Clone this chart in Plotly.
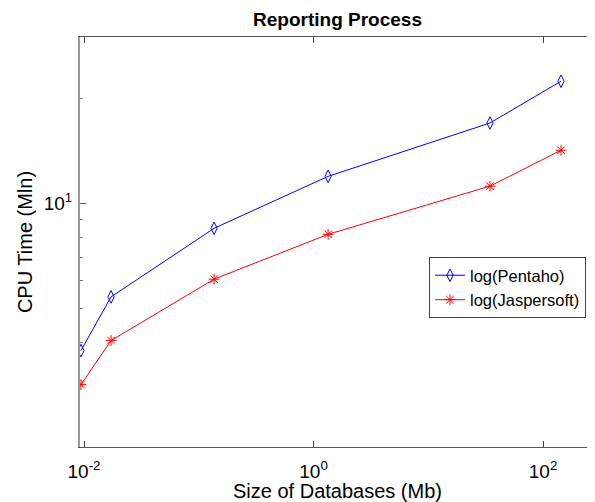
import plotly.graph_objects as go
import math

# Data (log-log axes)
db_size_mb = [0.0094, 0.0172, 0.136, 1.34, 34.5, 143.5]
pentaho_cpu = [3.78, 5.39, 8.48, 11.95, 17.0, 22.4]
jaspersoft_cpu = [3.02, 4.04, 6.06, 8.15, 11.2, 14.2]

x_tickvals = [0.01, 1, 100]
x_ticktext = ["10<sup>-2</sup>", "10<sup>0</sup>", "10<sup>2</sup>"]
y_tickvals = [10]
y_ticktext = ["10<sup>1</sup>"]
y_minor_vals = [3, 4, 5, 6, 7, 8, 9, 20, 30]

FONT = "Arial, Liberation Sans, sans-serif"

# page body has an 8px margin, so the figure is sized/offset to compensate
W, H = 587, 494

fig = go.Figure()
fig.add_trace(go.Scatter(
    x=db_size_mb, y=pentaho_cpu, mode="lines+markers", name="log(Pentaho)",
    line=dict(color="#0000FF", width=1),
    marker=dict(symbol="diamond-tall-open", size=9, color="#0000FF",
                line=dict(width=1, color="#0000FF")),
))
fig.add_trace(go.Scatter(
    x=db_size_mb, y=jaspersoft_cpu, mode="lines+markers", name="log(Jaspersoft)",
    line=dict(color="#FF0000", width=1),
    marker=dict(symbol="asterisk-open", size=9, color="#FF0000",
                line=dict(width=1, color="#FF0000")),
))

fig.update_layout(
    width=W, height=H,
    margin=dict(l=72, r=0, t=29, b=55, autoexpand=False),
    paper_bgcolor="white", plot_bgcolor="white",
    font=dict(family=FONT, color="black"),
    title=dict(text="<b>Reporting Process</b>", x=0.5, xref="paper",
               y=1 - 11 / H, yref="container", yanchor="middle", xanchor="center",
               font=dict(size=19, family=FONT, color="black")),
    showlegend=True,
    legend=dict(x=(429 - 80) / 515, y=(447 - 257) / 410, xanchor="left", yanchor="top",
                bgcolor="white", bordercolor="#444", borderwidth=1,
                font=dict(size=16.5, family=FONT), tracegroupgap=0),
)

fig.update_xaxes(
    type="log", range=[-2.035, 2.453], automargin=False,
    tickmode="array", tickvals=x_tickvals, ticktext=x_ticktext,
    ticks="inside", ticklen=6, tickcolor="#444", tickwidth=1,
    showline=True, linecolor="#555", linewidth=1, mirror="ticks",
    showgrid=False, zeroline=False,
    ticklabelstandoff=7,
    tickfont=dict(size=19, family=FONT, color="black"),
    title=dict(text="Size of Databases (Mb)", font=dict(size=20, family=FONT, color="black"),
               standoff=0),
)
fig.update_yaxes(
    type="log", range=[math.log10(2), math.log10(30)], automargin=False,
    tickmode="array", tickvals=y_tickvals, ticktext=y_ticktext,
    ticks="inside", ticklen=6, tickcolor="#555", tickwidth=1,
    minor=dict(tickvals=y_minor_vals, ticks="inside", ticklen=3, tickcolor="#777", showgrid=False),
    showline=True, linecolor="#999", linewidth=2, mirror=False,
    showgrid=False, zeroline=False,
    ticklabelstandoff=2,
    tickfont=dict(size=19, family=FONT, color="black"),
    title=dict(text="CPU Time (Mln)", font=dict(size=20, family=FONT, color="black"),
               standoff=6),
)

fig.write_html("out.html")
